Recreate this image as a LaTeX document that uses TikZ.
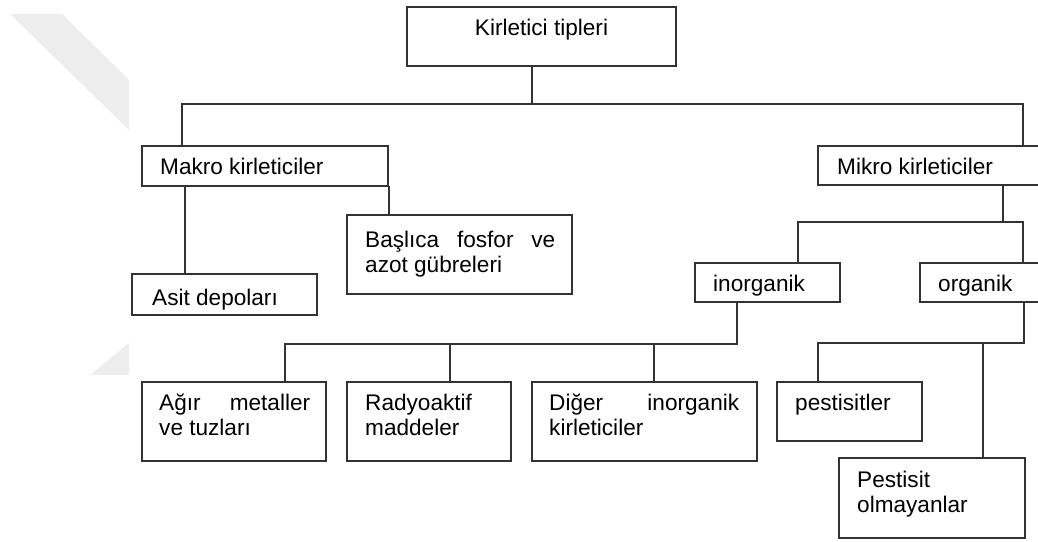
\documentclass[tikz,border=0pt]{standalone}
\usepackage{fontspec}
\setmainfont{Liberation Sans}
\begin{document}
\begin{tikzpicture}[x=1pt,y=-1pt,
  pbox/.style={draw=black!80, line width=1.8pt, rectangle, inner sep=0pt, fill=white},
  conn/.style={draw=black!80, line width=1.8pt, line cap=rect},
  txt/.style={inner sep=0pt, anchor=base west, text=black,
              font=\fontsize{22.6}{25}\selectfont},
  ribbon/.style={fill=black!7, draw=none}]
\useasboundingbox (0,0) rectangle (1038,541);

% faint background ribbon
\fill[ribbon] (10,14) -- (62,14) -- (129,80) -- (129,130) -- cycle;
\fill[ribbon] (90,375) -- (129,343) -- (129,375) -- cycle;

% boxes
\node[pbox, minimum width=269pt, minimum height=59pt] (top)   at (541.5,36.5) {};
\node[pbox, minimum width=246pt, minimum height=40pt] (makro) at (265,166) {};
\node[pbox, minimum width=252pt, minimum height=39pt] (mikro) at (944,165.5) {};
\node[pbox, minimum width=225pt, minimum height=79pt] (basl)  at (459.5,254.5) {};
\node[pbox, minimum width=185pt, minimum height=41pt] (asit)  at (224.5,294.5) {};
\node[pbox, minimum width=145pt, minimum height=39pt] (inorg) at (767.5,282.5) {};
\node[pbox, minimum width=150pt, minimum height=39pt] (org)   at (995,282.5) {};
\node[pbox, minimum width=184pt, minimum height=79pt] (agir)  at (234,421.5) {};
\node[pbox, minimum width=164pt, minimum height=79pt] (rady)  at (429,421.5) {};
\node[pbox, minimum width=225pt, minimum height=79pt] (diger) at (644.5,421.5) {};
\node[pbox, minimum width=145pt, minimum height=59pt] (pest)  at (849.5,411.5) {};
\node[pbox, minimum width=186pt, minimum height=80pt] (pol)   at (932,498) {};

% labels
\node[txt, anchor=base] (top-t) at (541.5,35) {Kirletici tipleri};
\node[txt] (makro-t) at (160,174) {Makro kirleticiler};
\node[txt] (mikro-t) at (837,174) {Mikro kirleticiler};
\node[txt] (basl-t) at (365,247)
  {\parbox[t]{200pt}{\hbox to 190pt{Başlıca\hfill fosfor\hfill ve}\par azot gübreleri}};
\node[txt] (asit-t) at (152,305) {Asit depoları};
\node[txt] (inorg-t) at (713,291) {inorganik};
\node[txt] (org-t) at (938,291) {organik};
\node[txt] (agir-t) at (159,410)
  {\parbox[t]{160pt}{\hbox to 151pt{Ağır\hfill metaller}\par ve tuzları}};
\node[txt] (rady-t) at (365,410)
  {\parbox[t]{150pt}{Radyoaktif\par maddeler}};
\node[txt] (diger-t) at (549,410)
  {\parbox[t]{200pt}{\hbox to 190pt{Diğer\hfill inorganik}\par kirleticiler}};
\node[txt] (pest-t) at (795,410) {pestisitler};
\node[txt] (pol-t) at (857,487)
  {\parbox[t]{160pt}{Pestisit\par olmayanlar}};

% junction points
\coordinate (t1) at (532,104);
\coordinate (l1) at (182,104);
\coordinate (r1) at (1023,104);
\coordinate (m1) at (185,0);
\coordinate (k1) at (1003,222);
\coordinate (k2) at (798,222);
\coordinate (k3) at (1023,222);
\coordinate (j1) at (737,344);
\coordinate (j0) at (285,344);
\coordinate (jm) at (450,344);
\coordinate (jd) at (654,344);
\coordinate (o1) at (1024,343);
\coordinate (o0) at (818,343);
\coordinate (om) at (983,343);

% connectors
\draw[conn] (top.south -| t1) -- (t1);
\draw[conn] (l1 |- makro.north) -- (l1) -- (r1) -- (r1 |- mikro.north);
\draw[conn] (makro.south -| m1) -- (asit.north -| m1);
\draw[conn] (makro.south east) -- (makro.south east |- basl.north);
\draw[conn] (mikro.south -| k1) -- (k1);
\draw[conn] (k2 |- inorg.north) -- (k2) -- (k3) -- (k3 |- org.north);
\draw[conn] (inorg.south -| j1) -- (j1) -- (j0) -- (j0 |- agir.north);
\draw[conn] (jm) -- (jm |- rady.north);
\draw[conn] (jd) -- (jd |- diger.north);
\draw[conn] (org.south -| o1) -- (o1) -- (o0) -- (o0 |- pest.north);
\draw[conn] (om) -- (om |- pol.north);
\end{tikzpicture}
\end{document}
